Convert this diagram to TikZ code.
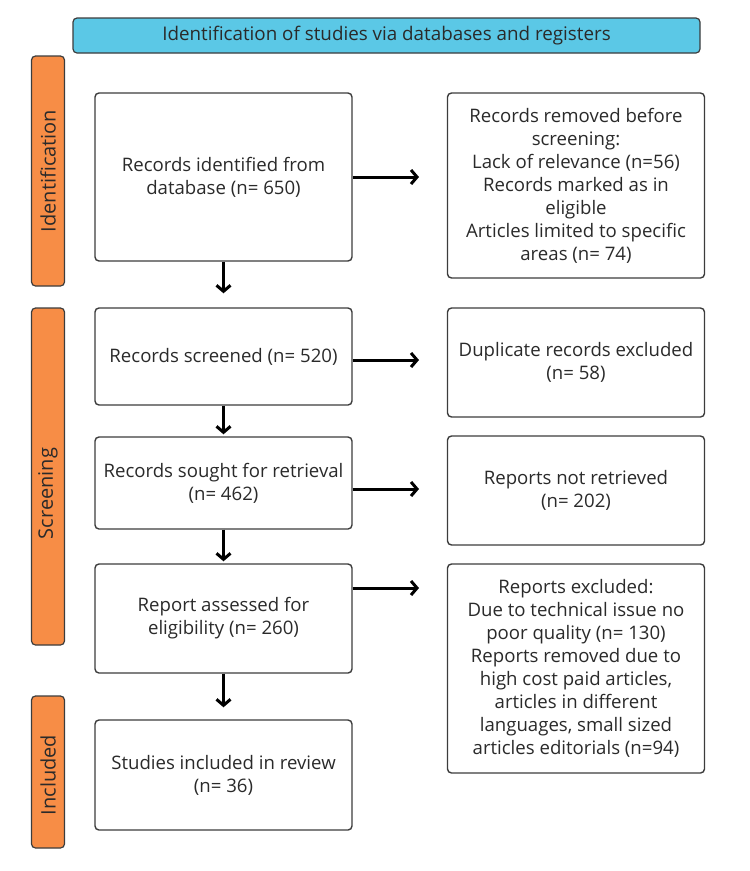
\documentclass[tikz,border=0pt]{standalone}
\usepackage{fontspec}
\setmainfont{Open Sans}
\usetikzlibrary{arrows.meta,calc}
\definecolor{bannercol}{HTML}{5BC8E6}
\definecolor{phasecol}{HTML}{F78D46}
\definecolor{edgecol}{HTML}{3C3C3C}
\definecolor{txtcol}{HTML}{2A2A2A}
\begin{document}
\begin{tikzpicture}[x=1pt,y=-1pt,
  box/.style={draw=edgecol,line width=1.4pt,rounded corners=4pt,fill=white,
    align=center,text=txtcol,font=\fontsize{18.6}{23}\selectfont,inner sep=0pt,
    minimum width=257pt},
  phase/.style={draw=edgecol,line width=1.2pt,rounded corners=4pt,fill=phasecol,
    text=txtcol,font=\fontsize{20}{22}\selectfont,rotate=90,inner sep=0pt,
    minimum height=33pt},
  banner/.style={draw=edgecol,line width=1.2pt,rounded corners=4pt,fill=bannercol,
    text=txtcol,font=\fontsize{18.8}{20}\selectfont,inner sep=0pt,
    minimum width=627pt,minimum height=35pt},
  arr/.style={line width=3pt,-{Straight Barb[length=6pt,width=14pt,line width=3pt]}}]
\useasboundingbox (0,0) rectangle (750,871);
% banner
\node[banner] (ban) at (386.5,35.5) {Identification of studies via databases and registers};
% phases
\node[phase,minimum width=230pt] (pI) at (48,171) {Identification};
\node[phase,minimum width=337pt] (pS) at (48,476.5) {Screening\kern34pt\relax};
\node[phase,minimum width=152pt] (pC) at (48,772) {Included\kern6pt\relax};
% left column
\node[box,minimum height=168pt] (b1) at (223.5,177) {Records identified from\\database (n= 650)};
\node[box,minimum height=97pt] (b2) at (223.5,356.5) {Records screened (n= 520)};
\node[box,minimum height=92pt] (b3) at (223.5,483) {Records sought for retrieval\\(n= 462)};
\node[box,minimum height=109pt] (b4) at (223.5,618.5) {Report assessed for\\eligibility (n= 260)};
\node[box,minimum height=110pt] (b5) at (223.5,775) {Studies included in review\\(n= 36)};
% right column
\node[box,minimum height=185pt] (r1) at (576,185.5) {Records removed before\\screening:\\Lack of relevance (n=56)\\Records marked as in\\eligible\\Articles limited to specific\\areas (n= 74)};
\node[box,minimum height=109pt] (r2) at (576,362.5) {Duplicate records excluded\\(n= 58)};
\node[box,minimum height=109pt] (r3) at (576,490.5) {Reports not retrieved\\(n= 202)};
\node[box,minimum height=209pt] (r4) at (576,668.5) {Reports excluded:\\Due to technical issue no\\poor quality (n= 130)\\Reports removed due to\\high cost paid articles,\\articles in different\\languages, small sized\\articles editorials (n=94)};
% horizontal arrows
\coordinate (h1) at (419,177);
\coordinate (h2) at (419,360);
\coordinate (h3) at (419,489);
\coordinate (h4) at (419,588);
\draw[arr] (b1.east |- h1) -- (h1);
\draw[arr] (b2.east |- h2) -- (h2);
\draw[arr] (b3.east |- h3) -- (h3);
\draw[arr] (b4.east |- h4) -- (h4);
% vertical arrows
\draw[arr,shorten >=14pt] (b1.south) -- (b2.north);
\draw[arr,shorten >=2pt] (b2.south) -- (b3.north);
\draw[arr,shorten >=2pt] (b3.south) -- (b4.north);
\draw[arr,shorten >=12pt] (b4.south) -- (b5.north);
\end{tikzpicture}
\end{document}
